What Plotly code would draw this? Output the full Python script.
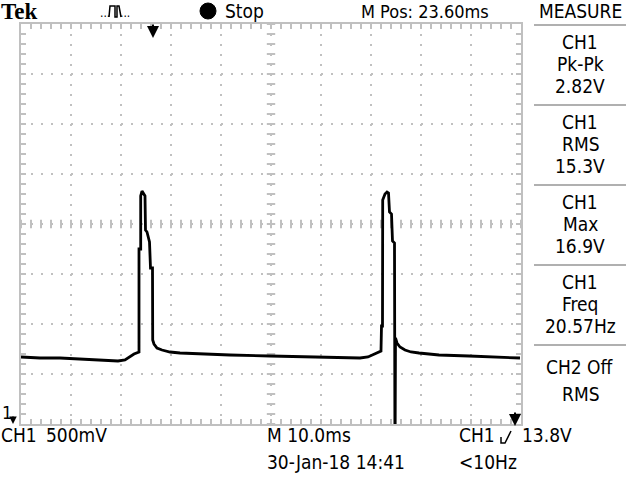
import plotly.graph_objects as go
import numpy as np

# CH1 trace: time from trigger (ms) and volts
t_ms = [-26.4, -22.6, -18.6, -14.6, -10.6, -7.0, -5.6, -4.6, -3.8, -2.8,
        -2.8, -2.46, -2.46, -2.2, -1.9, -1.6, -1.5, -1.2, -0.7, -0.5,
        -0.1, -0.06, 0.2, 0.8, 1.8, 3.4, 5.4, 9.4, 15.4, 23.4,
        33.4, 41.4, 43.0, 44.2, 45.0, 45.6, 45.7, 45.9, 45.94, 46.4,
        46.8, 47.1, 47.3, 47.7, 47.9, 48.3, 48.4, 48.5, 48.8, 49.4,
        50.4, 51.6, 53.2, 57.2, 63.2, 69.2, 73.4]
ch1_v = [15.24, 15.23, 15.23, 15.22, 15.21, 15.20, 15.21, 15.24, 15.27, 15.29,
         16.32, 16.32, 16.85, 16.90, 16.88, 16.85, 16.51, 16.49, 16.39, 16.13,
         16.13, 15.41, 15.37, 15.33, 15.31, 15.29, 15.28, 15.27, 15.26, 15.25,
         15.24, 15.23, 15.24, 15.27, 15.29, 15.30, 15.55, 15.55, 16.81, 16.87,
         16.89, 16.88, 16.69, 16.67, 16.40, 16.38, 14.08, 15.43, 15.38, 15.34,
         15.31, 15.29, 15.28, 15.26, 15.25, 15.24, 15.23]

# scope settings
t_center = 23.6   # M Pos, ms
t_div = 10.0      # ms/div
v_center = 16.57
v_div = 0.5       # 500mV/div

measure_blocks = [["CH1", "Pk-Pk", "2.82V"],
                  ["CH1", "RMS", "15.3V"],
                  ["CH1", "Max", "16.9V"],
                  ["CH1", "Freq", "20.57Hz"]]

GRAY = "#c0c0c0"
FONT = "Liberation Sans Narrow, DejaVu Sans Condensed, sans-serif"

t0, t1 = t_center - 5 * t_div, t_center + 5 * t_div
v0, v1 = v_center - 4 * v_div, v_center + 4 * v_div


def px(x):
    return (x - 21) / 500


def py(y):
    return (424 - y) / 400


fig = go.Figure()

# centre crosshair tick marks
xt = np.arange(t0, t1 + 1e-6, t_div / 5)
fig.add_trace(go.Scatter(x=xt, y=[v_center] * len(xt), mode="markers",
                         marker=dict(symbol="line-ns", size=6, line=dict(width=2, color=GRAY)),
                         hoverinfo="skip", showlegend=False))
yt = np.arange(v0, v1 + 1e-6, v_div / 5)
fig.add_trace(go.Scatter(x=[t_center] * len(yt), y=yt, mode="markers",
                         marker=dict(symbol="line-ew", size=6, line=dict(width=2, color=GRAY)),
                         hoverinfo="skip", showlegend=False))

fig.add_trace(go.Scatter(x=t_ms, y=ch1_v, mode="lines",
                         line=dict(color="black", width=2.8),
                         showlegend=False))

axis_common = dict(showticklabels=False, showgrid=True, gridcolor=GRAY, gridwidth=2,
                   griddash="2px,8px", zeroline=False, showline=True, linecolor=GRAY,
                   linewidth=2, mirror="ticks", ticks="inside", ticklen=5, tickwidth=2,
                   tickcolor=GRAY)
fig.update_xaxes(range=[t0, t1], tick0=t0, dtick=t_div,
                 minor=dict(ticks="inside", dtick=t_div / 5, tick0=t0, ticklen=5,
                            tickwidth=2, tickcolor=GRAY, showgrid=False),
                 **axis_common)
fig.update_yaxes(range=[v0, v1], tick0=v0, dtick=v_div,
                 minor=dict(ticks="inside", dtick=v_div / 5, tick0=v0, ticklen=5,
                            tickwidth=2, tickcolor=GRAY, showgrid=False),
                 **axis_common)

ann = []


def label(text, x, y, anchor="left", size=19, family=FONT, color="black"):
    ann.append(dict(text=text, x=px(x), y=py(y), xref="paper", yref="paper",
                    xanchor=anchor, yanchor="middle", showarrow=False, borderpad=0,
                    font=dict(family=family, size=size, color=color)))


label("<b>Tek</b>", 0, 12, size=23, family="Liberation Serif, serif")
label("...", 99, 13, size=12)
label("...", 119, 13, size=12)
label("Stop", 224, 11)
label("M Pos: 23.60ms", 360, 11, size=18)
label("MEASURE", 580, 11, anchor="center")

for i, block in enumerate(measure_blocks):
    for j, line in enumerate(block):
        label(line, 580, 42 + 80 * i + 22 * j, anchor="center")
label("CH2 Off", 580, 367, anchor="center")
label("RMS", 580, 394, anchor="center")

label("CH1", 0, 435)
label("500mV", 45, 435)
label("M 10.0ms", 266, 435)
label("30-Jan-18 14:41", 266, 462)
label("CH1", 458, 435)
label("13.8V", 521, 435)
label("&lt;10Hz", 458, 462)
label("1", 1, 412, size=18)

# trigger position marker (t = 0) and trigger level marker
ann.append(dict(x=0, y=py(38), xref="x", yref="paper", text="", showarrow=True,
                ax=0, ay=-15, arrowhead=2, arrowsize=1.2, arrowwidth=2, arrowcolor="black"))
ann.append(dict(x=px(515), y=py(426), xref="paper", yref="paper", text="", showarrow=True,
                ax=0, ay=-15, arrowhead=2, arrowsize=1.2, arrowwidth=2, arrowcolor="black"))
ann.append(dict(x=px(13), y=py(424), xref="paper", yref="paper", text="", showarrow=True,
                ax=0, ay=-9, arrowhead=2, arrowsize=1, arrowwidth=1.5, arrowcolor="black"))

shapes = []
for y in [25, 105, 185, 265, 345]:
    shapes.append(dict(type="line", xref="paper", yref="paper", x0=px(534), x1=px(626),
                       y0=py(y), y1=py(y), line=dict(color="#b0b0b0", width=2)))

# stop indicator dot
shapes.append(dict(type="circle", xref="paper", yref="paper", x0=px(200), x1=px(216),
                   y0=py(19), y1=py(3), fillcolor="black", line=dict(color="black", width=1)))

# pulse icon and trigger slope icon
pulse = [(109, 17), (110, 6), (115, 6), (115, 17), (117, 17), (117, 6), (119, 6), (121, 17)]
slope = [(501, 437), (501, 443), (505, 443), (511, 431)]
for pts in (pulse, slope):
    path = "M " + " L ".join(f"{px(a):.4f},{py(b):.4f}" for a, b in pts)
    shapes.append(dict(type="path", xref="paper", yref="paper", path=path,
                       line=dict(color="black", width=1.5)))

fig.update_layout(width=640, height=480, margin=dict(l=21, r=119, t=24, b=56),
                  paper_bgcolor="white", plot_bgcolor="white",
                  annotations=ann, shapes=shapes, hovermode=False)

fig.write_html("out.html", config={"displayModeBar": False},
               post_script="document.body.style.margin='0';")
